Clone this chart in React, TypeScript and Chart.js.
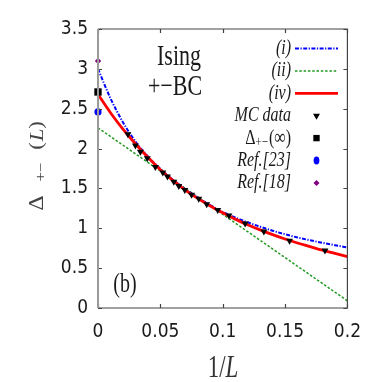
import { useEffect, useRef } from "react";
import { Chart, registerables } from "chart.js";

Chart.register(...registerables);

// ---- data ----
const xTickValues = [0, 0.05, 0.1, 0.15, 0.2];
const yTickValues = [0, 0.5, 1, 1.5, 2, 2.5, 3, 3.5];

const curveX = [0, 0.01, 0.02, 0.03, 0.04, 0.05, 0.06, 0.07, 0.08, 0.09, 0.1, 0.11, 0.12, 0.13, 0.14, 0.15, 0.16, 0.17, 0.18, 0.19, 0.2];
const curveI = [3.0, 2.63, 2.33, 2.09, 1.9, 1.745, 1.61, 1.49, 1.385, 1.29, 1.205, 1.135, 1.075, 1.02, 0.97, 0.925, 0.885, 0.85, 0.818, 0.788, 0.76];
const curveIV = [2.68, 2.45, 2.245, 2.06, 1.89, 1.735, 1.6, 1.48, 1.375, 1.28, 1.195, 1.115, 1.045, 0.98, 0.92, 0.865, 0.815, 0.77, 0.725, 0.685, 0.645];
const curveIIX = [0, 0.1, 0.2];
const curveII = [2.26, 1.175, 0.09];

const mcX = [0.024, 0.03, 0.034, 0.0395, 0.046, 0.052, 0.0557, 0.0608, 0.0648, 0.0696, 0.075, 0.0808, 0.0872, 0.096, 0.105, 0.118, 0.133, 0.1536, 0.182];
const mcY = [2.18, 2.04, 1.96, 1.88, 1.77, 1.7, 1.65, 1.585, 1.53, 1.48, 1.42, 1.37, 1.3, 1.23, 1.16, 1.06, 0.96, 0.845, 0.72];

const infX = [0];
const infY = [2.71];
const ref23X = [0];
const ref23Y = [2.46];
const ref18X = [0];
const ref18Y = [3.1];

const legendLabels = ["(i)", "(ii)", "(iv)", "MC data", "Δ+−(∞)", "Ref.[23]", "Ref.[18]"];
const annotationLines = ["Ising", "+−BC"];
const panelLabel = "(b)";

const toPts = (xs: number[], ys: number[]) => xs.map((x, i) => ({ x, y: ys[i] }));

const SERIF = "'Liberation Serif', 'Times New Roman', serif";
const NARROW = "'Liberation Sans Narrow', 'DejaVu Sans Condensed', 'Arial Narrow', sans-serif";
const TEXT = "#1a1a1a";
const SY = 1.33;

function stretched(ctx: CanvasRenderingContext2D, text: string, x: number, y: number, font: string, align: CanvasTextAlign, baseline: CanvasTextBaseline, color = TEXT) {
  ctx.save();
  ctx.translate(x, y);
  ctx.scale(1, SY);
  ctx.font = font;
  ctx.textAlign = align;
  ctx.textBaseline = baseline;
  ctx.fillStyle = color;
  ctx.fillText(text, 0, 0);
  ctx.restore();
}

function marker(ctx: CanvasRenderingContext2D, style: string, x: number, y: number, r: number, color: string) {
  ctx.save();
  ctx.fillStyle = color;
  ctx.beginPath();
  if (style === "tri") {
    const w = r * Math.sqrt(3) / 2;
    ctx.moveTo(x - w, y - r / 2);
    ctx.lineTo(x + w, y - r / 2);
    ctx.lineTo(x, y + r);
    ctx.closePath();
  } else if (style === "rect") {
    ctx.rect(x - r * 0.707, y - r * 0.707, r * 1.414, r * 1.414);
  } else if (style === "circle") {
    ctx.ellipse(x, y, r * 0.85, r * 1.15, 0, 0, Math.PI * 2);
  } else {
    ctx.moveTo(x, y - r);
    ctx.lineTo(x + r, y);
    ctx.lineTo(x, y + r);
    ctx.lineTo(x - r, y);
    ctx.closePath();
  }
  ctx.fill();
  ctx.restore();
}

const decorPlugin = {
  id: "decor",
  afterDatasetsDraw(chart: any) {
    const ctx: CanvasRenderingContext2D = chart.ctx;
    const { left, right, top, bottom } = chart.chartArea;
    const xs = chart.scales.x;
    const ys = chart.scales.y;

    // frame + inward ticks
    ctx.save();
    ctx.strokeStyle = "#444";
    ctx.lineWidth = 1.2;
    ctx.beginPath();
    ctx.moveTo(left, top);
    ctx.lineTo(right, top);
    ctx.lineTo(right, bottom);
    ctx.lineTo(left, bottom);
    ctx.stroke();
    const tl = 4;
    ctx.beginPath();
    xTickValues.forEach((v) => {
      const p = Math.round(xs.getPixelForValue(v)) + 0.5;
      ctx.moveTo(p, bottom);
      ctx.lineTo(p, bottom - tl);
      ctx.moveTo(p, top);
      ctx.lineTo(p, top + tl);
    });
    yTickValues.forEach((v) => {
      const p = Math.round(ys.getPixelForValue(v)) + 0.5;
      ctx.moveTo(left, p);
      ctx.lineTo(left + tl, p);
      ctx.moveTo(right, p);
      ctx.lineTo(right - tl, p);
    });
    ctx.stroke();
    ctx.strokeStyle = "#9a9a9a";
    ctx.lineWidth = 2;
    ctx.beginPath();
    ctx.moveTo(left, top);
    ctx.lineTo(left, bottom);
    ctx.stroke();
    ctx.restore();

    // legend
    const ds = chart.data.datasets;
    const R = 291;
    const sx0 = 295;
    const sx1 = 338;
    const mx = 316.5;
    legendLabels.forEach((label, i) => {
      const y = 48.5 + i * 22.4;
      const d = ds[i];
      if (i === 4) {
        ctx.save();
        const f1 = `16px ${SERIF}`;
        const f2 = `11px ${SERIF}`;
        ctx.font = f1;
        const wD = ctx.measureText("Δ").width;
        const wP = ctx.measureText("(∞)").width;
        ctx.font = f2;
        const wS = ctx.measureText("+−").width;
        ctx.restore();
        let x = R - (wD + wS + wP + 1);
        stretched(ctx, "Δ", x, y, f1, "left", "middle");
        x += wD;
        stretched(ctx, "+−", x, y + 4, f2, "left", "middle");
        x += wS + 1;
        stretched(ctx, "(∞)", x, y, f1, "left", "middle");
      } else {
        stretched(ctx, label, R, y, `italic 16px ${SERIF}`, "right", "middle");
      }
      if (i < 3) {
        ctx.save();
        ctx.strokeStyle = d.borderColor;
        ctx.lineWidth = d.borderWidth;
        ctx.setLineDash(d.borderDash || []);
        ctx.beginPath();
        ctx.moveTo(sx0, y);
        ctx.lineTo(sx1, y);
        ctx.stroke();
        ctx.restore();
      } else {
        const st = ["tri", "rect", "circle", "diamond"][i - 3];
        const rr = [4, 4.5, 3.4, 3][i - 3];
        marker(ctx, st, mx, y, rr, d.backgroundColor);
      }
    });

    // annotation
    stretched(ctx, annotationLines[0], 179, 65, `22px ${SERIF}`, "center", "alphabetic");
    stretched(ctx, annotationLines[1], 175, 95, `22px ${SERIF}`, "center", "alphabetic");
    stretched(ctx, panelLabel, 125, 285, `20px ${SERIF}`, "center", "middle");

    // x title  "1/L"
    ctx.save();
    const fU = `23px ${SERIF}`;
    const fI = `italic 23px ${SERIF}`;
    ctx.font = fU;
    const w1 = ctx.measureText("1/").width;
    ctx.font = fI;
    const w2 = ctx.measureText("L").width;
    ctx.restore();
    const x0 = 223 - (w1 + w2) / 2;
    stretched(ctx, "1/", x0, 369, fU, "left", "middle", "#333");
    stretched(ctx, "L", x0 + w1, 369, fI, "left", "middle", "#333");

    // y title "Δ+−(L)" rotated
    const rot = (text: string, cx: number, cy: number, font: string) => {
      ctx.save();
      ctx.translate(cx, cy);
      ctx.rotate(-Math.PI / 2);
      ctx.scale(1.2, 1);
      ctx.font = font;
      ctx.textAlign = "center";
      ctx.textBaseline = "middle";
      ctx.fillStyle = "#444";
      ctx.fillText(text, 0, 0);
      ctx.restore();
    };
    rot("Δ", 37.5, 203, `20px ${SERIF}`);
    rot("+−", 41, 172, `14px ${SERIF}`);
    rot("(", 37.5, 146, `19px ${SERIF}`);
    rot("L", 37.5, 135, `italic 19px ${SERIF}`);
    rot(")", 37.5, 125, `19px ${SERIF}`);
  },
};

const fmt = (v: number | string) => String(Number(v));

export default function App() {
  const ref = useRef<HTMLCanvasElement | null>(null);

  useEffect(() => {
    if (!ref.current) return;
    const chart = new Chart(ref.current, {
      type: "scatter",
      data: {
        datasets: [
          {
            label: legendLabels[0],
            data: toPts(curveX, curveI),
            showLine: true,
            borderColor: "#0000ff",
            backgroundColor: "#0000ff",
            borderWidth: 2,
            borderDash: [4, 1.5, 1.2, 1.5],
            pointRadius: 0,
            cubicInterpolationMode: "monotone",
            order: 5,
          },
          {
            label: legendLabels[1],
            data: toPts(curveIIX, curveII),
            showLine: true,
            borderColor: "#1f9a1f",
            backgroundColor: "#1f9a1f",
            borderWidth: 1.5,
            borderDash: [2.5, 1.8],
            pointRadius: 0,
            order: 6,
          },
          {
            label: legendLabels[2],
            data: toPts(curveX, curveIV),
            showLine: true,
            borderColor: "#ff0000",
            backgroundColor: "#ff0000",
            borderWidth: 2.8,
            pointRadius: 0,
            cubicInterpolationMode: "monotone",
            order: 4,
          },
          {
            label: legendLabels[3],
            data: toPts(mcX, mcY),
            pointStyle: "triangle",
            rotation: 180,
            pointRadius: 4,
            backgroundColor: "#000000",
            borderColor: "#000000",
            borderWidth: 0,
            order: 1,
          },
          {
            label: legendLabels[4],
            data: toPts(infX, infY),
            pointStyle: "rect",
            pointRadius: 5.2,
            backgroundColor: "#000000",
            borderColor: "#000000",
            borderWidth: 0,
            clip: false,
            order: 0,
          },
          {
            label: legendLabels[5],
            data: toPts(ref23X, ref23Y),
            pointStyle: "circle",
            pointRadius: 3.6,
            backgroundColor: "#0000ff",
            borderColor: "#0000ff",
            borderWidth: 0,
            clip: false,
            order: 0,
          },
          {
            label: legendLabels[6],
            data: toPts(ref18X, ref18Y),
            pointStyle: "rectRot",
            pointRadius: 3.2,
            backgroundColor: "#800080",
            borderColor: "#800080",
            borderWidth: 0,
            clip: false,
            order: 0,
          },
        ] as any,
      },
      options: {
        animation: false,
        responsive: false,
        devicePixelRatio: 1,
        layout: { padding: { top: 29, right: 26, left: 0, bottom: 0 } },
        plugins: { legend: { display: false }, tooltip: { enabled: false } },
        scales: {
          x: {
            type: "linear",
            min: 0,
            max: 0.2,
            grid: { display: false, drawTicks: false },
            border: { display: false },
            afterBuildTicks: (s: any) => {
              s.ticks = xTickValues.map((v) => ({ value: v }));
            },
            afterFit: (s: any) => {
              s.height = 74;
            },
            ticks: {
              padding: 13,
              color: TEXT,
              font: { family: NARROW, size: 19 },
              maxRotation: 0,
              callback: (v: any) => fmt(v),
            },
          },
          y: {
            type: "linear",
            min: 0,
            max: 3.5,
            grid: { display: false, drawTicks: false },
            border: { display: false },
            afterBuildTicks: (s: any) => {
              s.ticks = yTickValues.map((v) => ({ value: v }));
            },
            afterFit: (s: any) => {
              s.width = 98;
            },
            ticks: {
              padding: 10,
              color: TEXT,
              font: { family: NARROW, size: 19 },
              callback: (v: any) => fmt(v),
            },
          },
        },
      },
      plugins: [decorPlugin],
    });
    return () => chart.destroy();
  }, []);

  return (
    <div style={{ position: "fixed", left: 0, top: 0, width: 374, height: 382, background: "#fff" }}>
      <canvas ref={ref} width={374} height={382} />
    </div>
  );
}
